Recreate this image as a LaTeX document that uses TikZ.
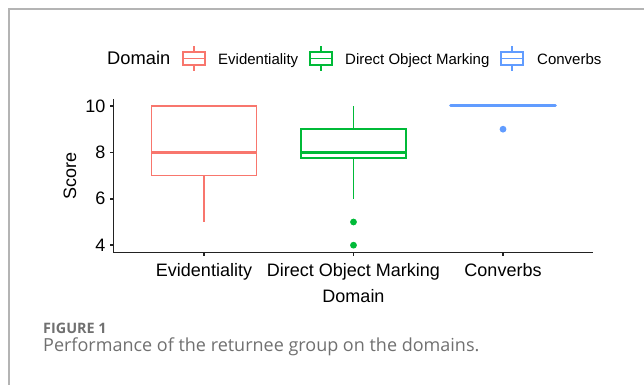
\documentclass[tikz,border=0pt]{standalone}
\usepackage{fontspec}
\setmainfont{Liberation Sans}
\newfontfamily\capfont{Open Sans}
\definecolor{cEvi}{HTML}{F8766D}
\definecolor{cDom}{HTML}{00BA38}
\definecolor{cCon}{HTML}{619CFF}
\definecolor{framegray}{HTML}{B4B4B4}
\definecolor{capgray}{HTML}{707070}
\definecolor{axisgray}{HTML}{222222}
\tikzset{
  txt/.style={inner sep=0pt, font=\fontsize{18}{20}\selectfont},
  legtxt/.style={inner sep=0pt, anchor=base west, font=\fontsize{15}{17}\selectfont},
  axisline/.style={draw=axisgray, line width=1.5pt},
  boxline/.style={line width=1.6pt},
  keyline/.style={line width=1.3pt},
  medline/.style={line width=3pt},
  outlier/.style={radius=3.4pt}
}
\begin{document}
\begin{tikzpicture}[x=1pt,y=1pt]
\useasboundingbox (0,0) rectangle (644,385);
% frame
\draw[framegray, line width=1.5pt] (644,376) -- (9,376) -- (9,0);

% legend
\node[legtxt, font=\fontsize{18.3}{20}\selectfont] (legtitle) at (107,320) {Domain};
\foreach \c/\col in {194/cEvi, 321/cDom, 512/cCon}{
  \draw[\col, keyline] (\c-11,320) rectangle (\c+11,333);
  \draw[\col, keyline] (\c-11,326.5) -- (\c+11,326.5);
  \draw[\col, keyline] (\c,333) -- (\c,339) (\c,320) -- (\c,314);
}
\node[legtxt] (legEvi) at (218,320) {Evidentiality};
\node[legtxt] (legDom) at (345,320) {Direct Object Marking};
\node[legtxt] (legCon) at (537,320) {Converbs};

% axes
\coordinate (origin) at (113.5,132.3);
\coordinate (ytop) at (113.5,286);
\coordinate (xend) at (593,132.3);
\draw[axisline] (ytop) -- (origin) -- (xend);
\foreach \v/\yy in {4/139.8, 6/186.2, 8/232.6, 10/279}{
  \draw[axisline] (110,\yy) -- (113.5,\yy);
  \node[txt, anchor=east] (ytick\v) at (105.5,\yy) {\v};
}
\foreach \xx/\lab/\nm in {204/Evidentiality/xEvi, 353.5/Direct Object Marking/xDom, 503/Converbs/xCon}{
  \draw[axisline] (\xx,132.3) -- (\xx,128.6);
  \node[txt, anchor=base] (\nm) at (\xx,108.3) {\lab};
}
\node[txt, anchor=base] (xtitle) at (353.5,82) {Domain};
\node[txt, rotate=90] (ytitle) at (70,209) {Score};

% boxplots (data coordinates)
\begin{scope}[shift={(54.5,47)}, x=149.5pt, y=23.2pt]
  % Evidentiality
  \draw[cEvi, boxline] (1-0.351,7) rectangle (1+0.351,10);
  \draw[cEvi, medline] (1-0.351,8) -- (1+0.351,8);
  \draw[cEvi, boxline] (1,7) -- (1,5);
  % Direct Object Marking
  \draw[cDom, boxline] (2-0.351,7.75) rectangle (2+0.351,9);
  \draw[cDom, medline] (2-0.351,8) -- (2+0.351,8);
  \draw[cDom, boxline] (2,9) -- (2,10) (2,7.75) -- (2,6);
  \fill[cDom] (2,5) circle[outlier];
  \fill[cDom] (2,4) circle[outlier];
  % Converbs
  \draw[cCon, medline, line cap=round] (3-0.351,10) -- (3+0.351,10);
  \fill[cCon] (3,9) circle[outlier];
\end{scope}

% caption
\node[inner sep=0pt, anchor=base west, text=capgray, font=\capfont\fontsize{14.4}{16}\selectfont\bfseries] (figlabel) at (43,51.7) {FIGURE 1};
\node[inner sep=0pt, anchor=base west, text=capgray, font=\capfont\fontsize{18}{20}\selectfont] (caption) at (43,34) {Performance of the returnee group on the domains.};
\end{tikzpicture}
\end{document}
